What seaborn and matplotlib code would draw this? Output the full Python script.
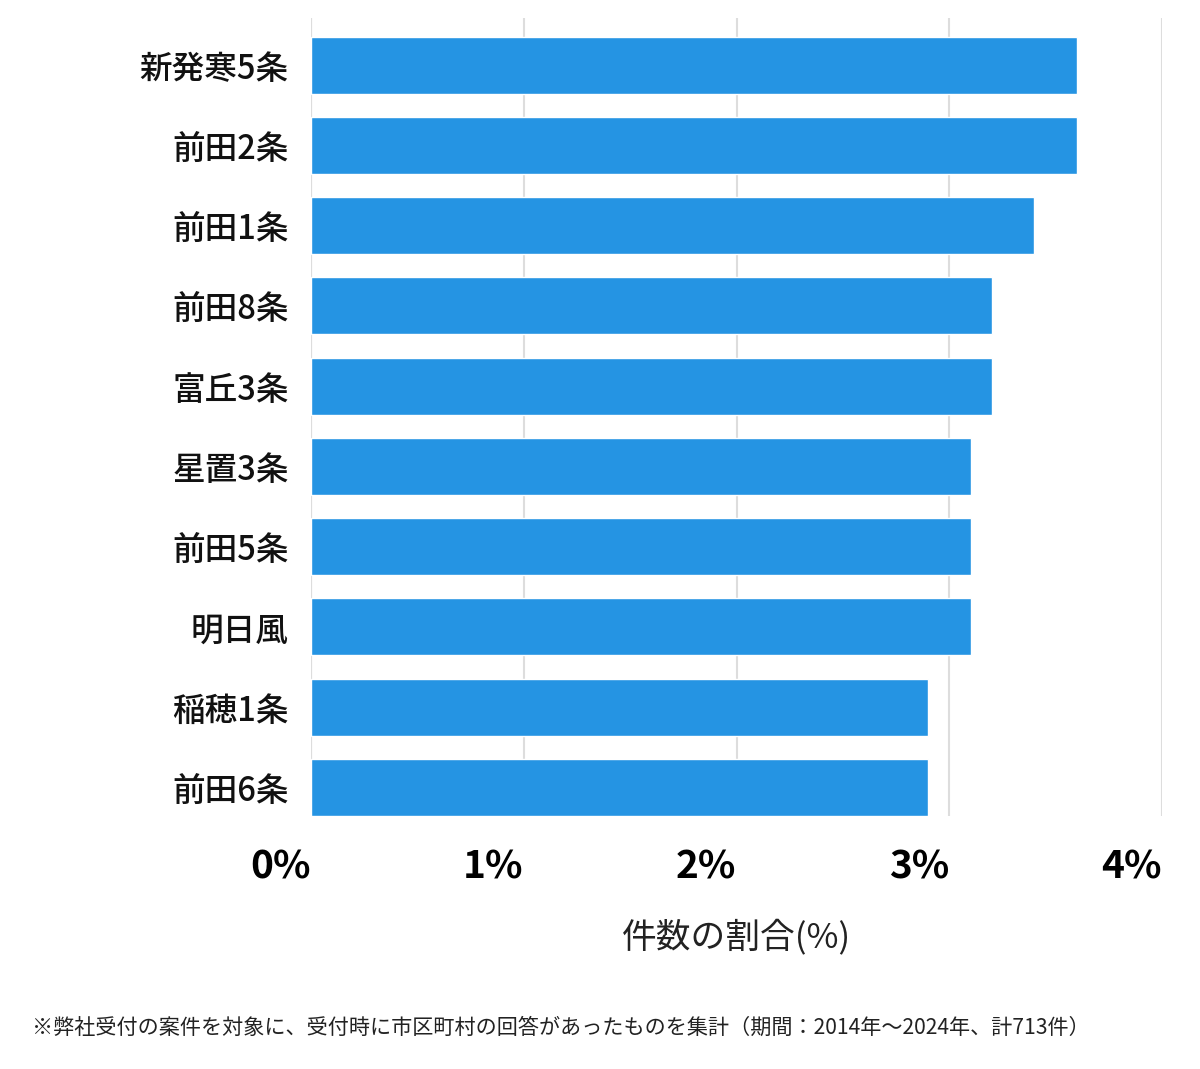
import matplotlib
matplotlib.use("Agg")
import matplotlib.pyplot as plt
import seaborn as sns
import pandas as pd

categories = ["新発寒5条", "前田2条", "前田1条", "前田8条", "富丘3条",
              "星置3条", "前田5条", "明日風", "稲穂1条", "前田6条"]
values = [3.6, 3.6, 3.4, 3.2, 3.2, 3.1, 3.1, 3.1, 2.9, 2.9]
xticks = [0, 1, 2, 3, 4]
xtick_labels = ["0%", "1%", "2%", "3%", "4%"]
xlabel = "件数の割合(%)"
footnote = "※弊社受付の案件を対象に、受付時に市区町村の回答があったものを集計（期間：2014年～2024年、計713件）"

sns.set_theme(style="white")
plt.rcParams['font.family'] = ['Noto Sans CJK JP', 'DejaVu Sans']

df = pd.DataFrame({"area": categories, "pct": values})

fig = plt.figure(figsize=(12, 10.69), dpi=100)
W, H = 1200, 1069
ax = fig.add_axes([311 / W, 1 - 816 / H, (1162 - 311) / W, (816 - 18) / H])

sns.barplot(data=df, x="pct", y="area", orient="h", color="#2594e3",
            saturation=1, width=0.71, ax=ax, zorder=3)

ax.set_xlim(0, 4)
ax.set_ylim(9.355, -0.586)
ax.set_xticks(xticks)
ax.set_xticklabels(xtick_labels, fontsize=28, fontweight="bold", ha="right")
ax.tick_params(axis="x", length=0, pad=23)
ax.tick_params(axis="y", length=0, pad=16, labelsize=23.5)
for lbl in ax.get_yticklabels():
    lbl.set_color("#111111")
    lbl.set_fontweight("medium")
for lbl in ax.get_xticklabels():
    lbl.set_color("black")
ax.xaxis.grid(True, color="#dddddd", linewidth=1.5, zorder=0)
ax.yaxis.grid(False)
for s in ["top", "right", "bottom", "left"]:
    ax.spines[s].set_visible(False)
ax.axvline(0, color="#dddddd", linewidth=1.5, zorder=1)
ax.set_ylabel("")
ax.set_xlabel(xlabel, fontsize=25, color="#222222", labelpad=23)

fig.text(32 / W, 1 - 1028 / H, footnote, fontsize=15.2, color="#222222",
         va="center", ha="left")

fig.savefig("out.png", dpi=100, facecolor="white")
